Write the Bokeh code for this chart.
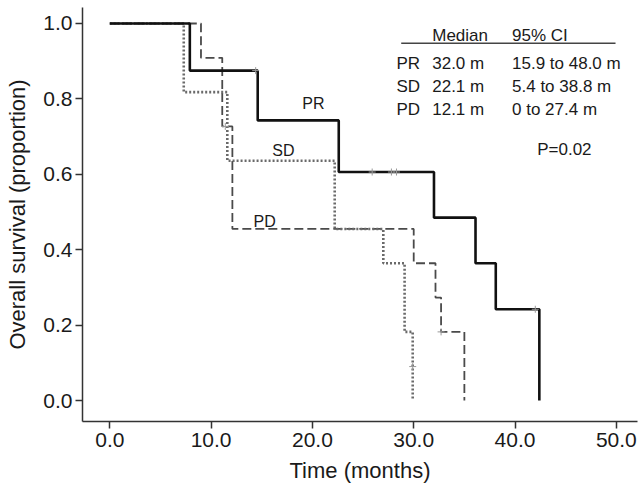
from bokeh.plotting import figure
from bokeh.models import FixedTicker, PrintfTickFormatter, ColumnDataSource, Range1d
from bokeh.core.properties import value
from bokeh.embed import file_html
from bokeh.resources import INLINE

# ---- data ----
pr_time = [0.0, 7.9, 14.6, 22.6, 32.0, 36.1, 38.1, 42.4]
pr_surv = [1.0, 0.875, 0.743, 0.606, 0.485, 0.364, 0.242, 0.0]
sd_time = [0.0, 7.3, 11.6, 22.2, 27.0, 29.1, 29.9]
sd_surv = [1.0, 0.818, 0.636, 0.455, 0.364, 0.182, 0.0]
pd_time = [0.0, 9.0, 11.1, 12.1, 30.0, 32.15, 32.7, 35.0]
pd_surv = [1.0, 0.909, 0.727, 0.455, 0.364, 0.273, 0.182, 0.0]

pr_cens_time = [14.4, 25.9, 27.8, 28.3, 42.0]
pr_cens_surv = [0.875, 0.606, 0.606, 0.606, 0.242]
pd_cens_time = [11.4, 32.7]
pd_cens_surv = [0.727, 0.182]
sd_cens_time = [29.9]
sd_cens_surv = [0.09]

x_ticks = [0, 10, 20, 30, 40, 50]
y_ticks = [0.0, 0.2, 0.4, 0.6, 0.8, 1.0]

groups = ["PR", "SD", "PD"]
medians = ["32.0 m", "22.1 m", "12.1 m"]
cis = ["15.9 to 48.0 m", "5.4 to 38.8 m", "0 to 27.4 m"]
header = ["Median", "95% CI"]
p_value = "P=0.02"

FONT = "Liberation Sans"
TXT = "#1a1a1a"

p = figure(width=640, height=489,
           x_range=Range1d(-2.695, 52.09), y_range=Range1d(-0.0557, 1.0424),
           output_backend="svg", toolbar_location=None,
           min_border_left=82, min_border_right=3, min_border_top=7, min_border_bottom=68)
p.outline_line_color = None
p.xgrid.visible = False
p.ygrid.visible = False
p.background_fill_color = "white"
p.border_fill_color = "white"

for ax in (p.xaxis[0], p.yaxis[0]):
    ax.axis_line_color = "#333333"
    ax.axis_line_width = 1.5
    ax.major_tick_line_color = "#333333"
    ax.major_tick_line_width = 1.5
    ax.major_tick_out = 7
    ax.major_tick_in = 0
    ax.minor_tick_line_color = None
    ax.major_label_text_font = FONT
    ax.major_label_text_font_size = "21px"
    ax.major_label_text_color = TXT
    ax.axis_label_text_font = FONT
    ax.axis_label_text_font_size = "22px"
    ax.axis_label_text_font_style = "normal"
    ax.axis_label_text_color = TXT
    ax.formatter = PrintfTickFormatter(format="%.1f")

p.xaxis[0].ticker = FixedTicker(ticks=x_ticks)
p.yaxis[0].ticker = FixedTicker(ticks=y_ticks)
p.xaxis[0].axis_label = "Time (months)"
p.yaxis[0].axis_label = "Overall survival (proportion)"
p.xaxis[0].major_label_standoff = 4
p.yaxis[0].major_label_standoff = 3
p.xaxis[0].axis_label_standoff = 8
p.yaxis[0].axis_label_standoff = 10

# ---- curves ----
p.step(pd_time, pd_surv, mode="after", line_color="#4a4a4a", line_width=1.8, line_dash="9 4")
p.step(sd_time, sd_surv, mode="after", line_color="#6a6a6a", line_width=2.6, line_dash="2 2")
p.step(pr_time, pr_surv, mode="after", line_color="#111111", line_width=2.6)

for t, s in ((pr_cens_time, pr_cens_surv), (pd_cens_time, pd_cens_surv), (sd_cens_time, sd_cens_surv)):
    p.scatter(t, s, marker="cross", size=7, line_color="#999999", line_width=1)

# ---- helpers: pixel position in the reference -> data units ----
def fx(px):
    return (px - 109.3) / 10.13

def fy(py):
    return (400.0 - py) / 377.0

# curve labels
lab_src = ColumnDataSource(dict(x=[fx(301.7), fx(271.7), fx(253.0)],
                                 y=[fy(103.5), fy(150.0), fy(221.0)],
                                 t=groups))
p.text(x="x", y="y", text="t", source=lab_src, text_font=value(FONT),
       text_font_size="16px", text_color=TXT, text_baseline="alphabetic", text_align="left")

# table
row_y = [fy(63.5), fy(86.0), fy(109.5)]
tab = dict(x=[], y=[], t=[])
tab["x"] += [fx(431.7), fx(511.5)]
tab["y"] += [fy(35.0), fy(35.0)]
tab["t"] += header
for i in range(3):
    tab["x"] += [fx(396.0), fx(431.7), fx(511.5)]
    tab["y"] += [row_y[i]] * 3
    tab["t"] += [groups[i], medians[i], cis[i]]
tab["x"].append(fx(536.7))
tab["y"].append(fy(149.0))
tab["t"].append(p_value)
p.text(x="x", y="y", text="t", source=ColumnDataSource(tab), text_font=value(FONT),
       text_font_size="17px", text_color=TXT, text_baseline="alphabetic", text_align="left")
p.line([fx(400.7), fx(615.0)], [fy(42.7), fy(42.7)], line_color="#444444", line_width=1.5)

open("out.html", "w").write(file_html(p, INLINE))
